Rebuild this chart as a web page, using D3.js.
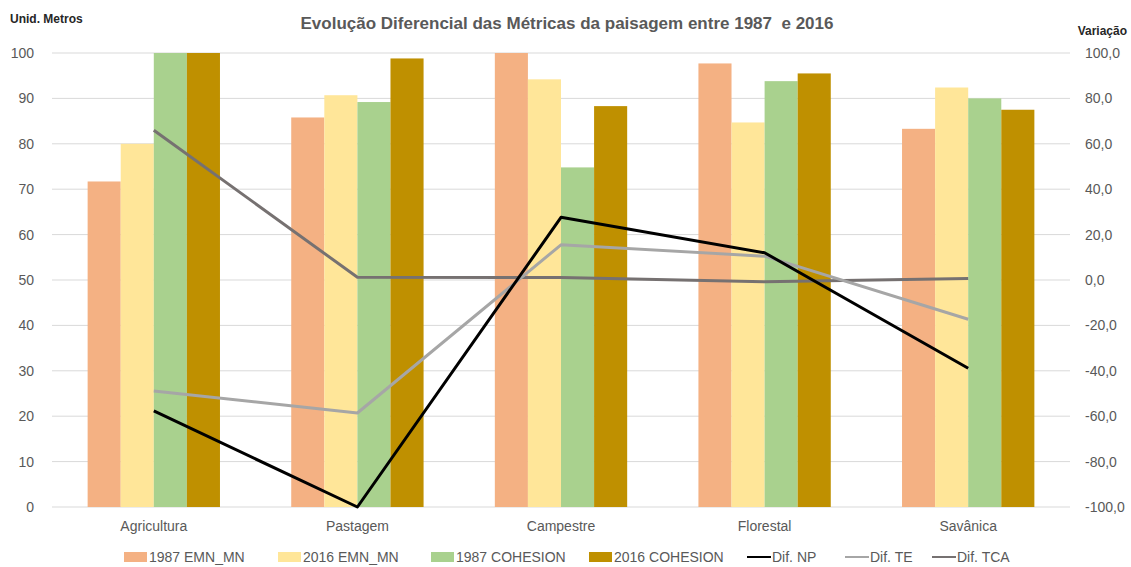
<!DOCTYPE html>
<html>
<head>
<meta charset="utf-8">
<script src="https://cdn.jsdelivr.net/npm/d3@7"></script>
<style>
  body { margin: 0; background: #fff; }
  svg text { font-family: "Liberation Sans Narrow", "Liberation Sans", sans-serif; }
</style>
</head>
<body>
<div id="chart"></div>
<script>
const categories = ['Agricultura', 'Pastagem', 'Campestre', 'Florestal', 'Savânica'];

const barSeries = ['1987 EMN_MN', '2016 EMN_MN', '1987 COHESION', '2016 COHESION'];
const emn1987 = [71.7, 85.8, 100, 97.7, 83.3];
const emn2016 = [80.0, 90.7, 94.2, 84.7, 92.4];
const coh1987 = [100, 89.2, 74.8, 93.8, 90.0];
const coh2016 = [100, 98.8, 88.3, 95.5, 87.5];

const lineSeries = ['Dif. NP', 'Dif. TE', 'Dif. TCA'];
const difNP = [-57.7, -100, 27.6, 12.0, -38.9];
const difTE = [-48.9, -58.6, 15.5, 10.5, -17.3];
const difTCA = [66.0, 1.2, 1.1, -0.8, 0.7];

const leftTicks = [0, 10, 20, 30, 40, 50, 60, 70, 80, 90, 100];
const rightTicks = [-100, -80, -60, -40, -20, 0, 20, 40, 60, 80, 100];

const barCols = ['#f4b183', '#ffe699', '#a9d18e', '#bf9000'];
const lineCols = ['#000000', '#a6a6a6', '#767171'];

const W = 1131, H = 567;
const margin = {top: 53, right: 61, bottom: 60, left: 52};
const textCol = '#595959';

const svg = d3.select('#chart').append('svg')
  .attr('width', W).attr('height', H);

const x0 = d3.scaleBand()
  .domain(categories)
  .range([margin.left, W - margin.right])
  .paddingInner(0.35).paddingOuter(0.175);

const x1 = d3.scaleBand()
  .domain(barSeries)
  .range([0, x0.bandwidth()]);

const yL = d3.scaleLinear().domain([0, 100]).range([H - margin.bottom, margin.top]);
const yR = d3.scaleLinear().domain([-100, 100]).range([H - margin.bottom, margin.top]);

// gridlines
svg.append('g')
  .selectAll('line')
  .data(leftTicks)
  .join('line')
  .attr('x1', margin.left).attr('x2', W - margin.right)
  .attr('y1', d => yL(d)).attr('y2', d => yL(d))
  .attr('stroke', '#d9d9d9').attr('stroke-width', 1);

// left axis
const axL = svg.append('g')
  .attr('transform', `translate(${margin.left - 18},0)`)
  .call(d3.axisLeft(yL).tickValues(leftTicks).tickSize(0).tickPadding(0));
axL.select('.domain').remove();
axL.selectAll('text').style('font-size', '14px').style('fill', textCol);

// right axis
const axR = svg.append('g')
  .attr('transform', `translate(${W - margin.right + 15},0)`)
  .call(d3.axisRight(yR).tickValues(rightTicks).tickSize(0).tickPadding(0)
    .tickFormat(d => d3.format('.1f')(d).replace('.', ',').replace('−', '-')));
axR.select('.domain').remove();
axR.selectAll('text').style('font-size', '14px').style('fill', textCol);

// x axis labels
const axX = svg.append('g')
  .attr('transform', `translate(0,${H - margin.bottom})`)
  .call(d3.axisBottom(x0).tickSize(0).tickPadding(14));
axX.select('.domain').remove();
axX.selectAll('text').style('font-size', '14px').style('fill', textCol);

// bars
const barData = [emn1987, emn2016, coh1987, coh2016];
const groups = svg.append('g')
  .selectAll('g')
  .data(categories)
  .join('g')
  .attr('transform', d => `translate(${x0(d)},0)`);

groups.selectAll('rect')
  .data((c, i) => barSeries.map((s, j) => ({s, j, v: barData[j][i]})))
  .join('rect')
  .attr('x', d => x1(d.s))
  .attr('width', x1.bandwidth())
  .attr('y', d => yL(d.v))
  .attr('height', d => yL(0) - yL(d.v))
  .attr('fill', d => barCols[d.j]);

// lines
const lineData = [difNP, difTE, difTCA];
const line = d3.line()
  .x((d, i) => x0(categories[i]) + x0.bandwidth() / 2)
  .y(d => yR(d));

svg.append('g')
  .selectAll('path')
  .data([2, 1, 0])
  .join('path')
  .attr('d', k => line(lineData[k]))
  .attr('fill', 'none')
  .attr('stroke', k => lineCols[k])
  .attr('stroke-width', 3)
  .attr('stroke-linejoin', 'round');

// titles
svg.append('text')
  .attr('x', 567).attr('y', 29)
  .attr('text-anchor', 'middle')
  .style('white-space', 'pre')
  .style('font-size', '17px').style('font-weight', 'bold').style('fill', textCol)
  .text('Evolução Diferencial das Métricas da paisagem entre 1987  e 2016');

svg.append('text')
  .attr('x', 10).attr('y', 23)
  .style('font-size', '12px').style('font-weight', 'bold').style('fill', '#262626')
  .text('Unid. Metros');

svg.append('text')
  .attr('x', 1127).attr('y', 35)
  .attr('text-anchor', 'end')
  .style('font-size', '12px').style('font-weight', 'bold').style('fill', '#262626')
  .text('Variação');

// legend
const legendItems = [
  {label: barSeries[0], type: 'rect', col: barCols[0], x: 124},
  {label: barSeries[1], type: 'rect', col: barCols[1], x: 278},
  {label: barSeries[2], type: 'rect', col: barCols[2], x: 431},
  {label: barSeries[3], type: 'rect', col: barCols[3], x: 589},
  {label: lineSeries[0], type: 'line', col: lineCols[0], x: 747},
  {label: lineSeries[1], type: 'line', col: lineCols[1], x: 845},
  {label: lineSeries[2], type: 'line', col: lineCols[2], x: 932}
];
const ly = 557;
const leg = svg.append('g')
  .selectAll('g')
  .data(legendItems)
  .join('g')
  .attr('transform', d => `translate(${d.x},${ly})`);

leg.filter(d => d.type === 'rect').append('rect')
  .attr('x', 0).attr('y', -5).attr('width', 23).attr('height', 10)
  .attr('fill', d => d.col);
leg.filter(d => d.type === 'line').append('line')
  .attr('x1', 0).attr('x2', 24).attr('y1', 0).attr('y2', 0)
  .attr('stroke', d => d.col).attr('stroke-width', 2);
leg.append('text')
  .attr('x', 25).attr('y', 5)
  .style('font-size', '14px').style('fill', textCol)
  .text(d => d.label);
</script>
</body>
</html>
